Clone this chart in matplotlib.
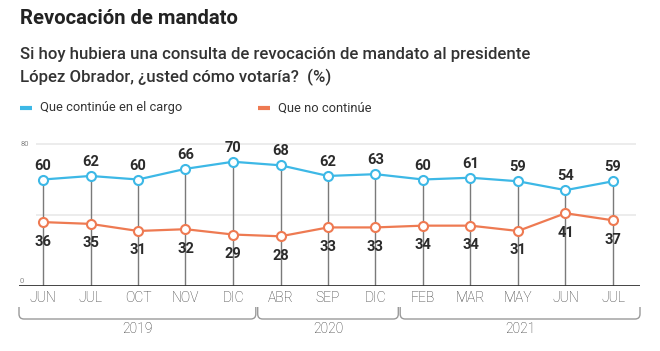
import matplotlib.pyplot as plt
from matplotlib.path import Path
from matplotlib.patches import PathPatch

months = ['JUN', 'JUL', 'OCT', 'NOV', 'DIC', 'ABR', 'SEP', 'DIC',
          'FEB', 'MAR', 'MAY', 'JUN', 'JUL']
years = ['2019', '2020', '2021']
year_spans = [(0, 4), (5, 7), (8, 12)]
stay = [60, 62, 60, 66, 70, 68, 62, 63, 60, 61, 59, 54, 59]
leave = [36, 35, 31, 32, 29, 28, 33, 33, 34, 34, 31, 41, 37]

blue = '#3db8e6'
orange = '#ee7a52'
dark = '#2b2b2b'

plt.rcParams['font.family'] = ['Roboto', 'DejaVu Sans']

fig = plt.figure(figsize=(6.6, 3.51), dpi=100)
W, H = 660, 351

fig.text(20 / W, 1 - 18 / H, 'Revocación de mandato', fontsize=14.6,
         fontweight='bold', color='#222222', va='center')
fig.text(20 / W, 1 - 55 / H, 'Si hoy hubiera una consulta de revocación de mandato al presidente',
         fontsize=12.1, fontweight='medium', color='#333333', va='center')
fig.text(20 / W, 1 - 77 / H, 'López Obrador, ¿usted cómo votaría?  (%)',
         fontsize=12.1, fontweight='medium', color='#333333', va='center')

# legend
for x0, col, lab in [(20, blue, 'Que continúe en el cargo'),
                     (258, orange, 'Que no continúe')]:
    fig.add_artist(plt.Line2D([x0 / W, (x0 + 12) / W], [1 - 108 / H] * 2,
                              color=col, lw=3, solid_capstyle='butt'))
    fig.text((x0 + 20) / W, 1 - 108 / H, lab, fontsize=9.3, color='#333333',
             va='center')

# axes: x index i at 43 + 47.5*i px, y 0 at 286 px, 80 at 144 px
px_x = 47.5
px_y = (286 - 144) / 80
x_left, x_right = (19 - 43) / px_x, (640 - 43) / px_x
y_top = 85
ax = fig.add_axes([19 / W, (H - 286) / H, 621 / W, y_top * px_y / H])
ax.set_xlim(x_left, x_right)
ax.set_ylim(0, y_top)
ax.axis('off')

xs = list(range(len(months)))
g0, g1 = (36 - 43) / px_x, (636 - 43) / px_x
for yv in (40, 80):
    ax.hlines(yv, g0, g1, color='#e9e9e9', lw=1.2, zorder=0)
ax.axhline(0, color='#333333', lw=2, zorder=3)
ax.text((21 - 43) / px_x, 80, '80', fontsize=5.5, color='#888888', va='center')
ax.text((20 - 43) / px_x, 3, '0', fontsize=5.5, color='#888888', va='center')

ax.vlines(xs, 0, stay, color='#7a7a7a', lw=1, zorder=1)
ax.plot(xs, stay, color=blue, lw=1.6, marker='o', ms=6.5, mfc='white',
        mec=blue, mew=1.5, zorder=4)
ax.plot(xs, leave, color=orange, lw=1.6, marker='o', ms=6.5, mfc='white',
        mec=orange, mew=1.5, zorder=4)

for x, s, l in zip(xs, stay, leave):
    ax.annotate(str(s), (x, s), xytext=(0, 5), textcoords='offset points',
                ha='center', va='bottom', fontsize=10.5, fontweight='bold',
                color=dark, zorder=5)
    ax.annotate(str(l), (x, l), xytext=(0, -9), textcoords='offset points',
                ha='center', va='top', fontsize=10.5, fontweight='bold',
                color=dark, zorder=5)

def ydata(py):
    return (286 - py) / px_y

for x, m in zip(xs, months):
    ax.text(x, ydata(298), m, ha='center', va='center', fontsize=10,
            fontweight='light', color='#333333', clip_on=False)

rx, ry = 5 / px_x, 5 / px_y
top, bot = ydata(307), ydata(319)
for (a, b), yr in zip(year_spans, years):
    xa, xb = a - 0.48, b + 0.48
    if a == 0:
        xa = x_left
    if b == len(months) - 1:
        xb = x_right
    verts = [(xa, top), (xa, bot + ry), (xa, bot), (xa + rx, bot),
             (xb - rx, bot), (xb, bot), (xb, bot + ry), (xb, top)]
    codes = [Path.MOVETO, Path.LINETO, Path.CURVE3, Path.CURVE3,
             Path.LINETO, Path.CURVE3, Path.CURVE3, Path.LINETO]
    ax.add_patch(PathPatch(Path(verts, codes), fc='none', ec='#9a9a9a',
                           lw=1, clip_on=False))
    ax.text((xa + xb) / 2, ydata(329), yr, ha='center', va='center',
            fontsize=10, fontweight='light', color='#333333', clip_on=False)

fig.savefig('out.png', dpi=100)
